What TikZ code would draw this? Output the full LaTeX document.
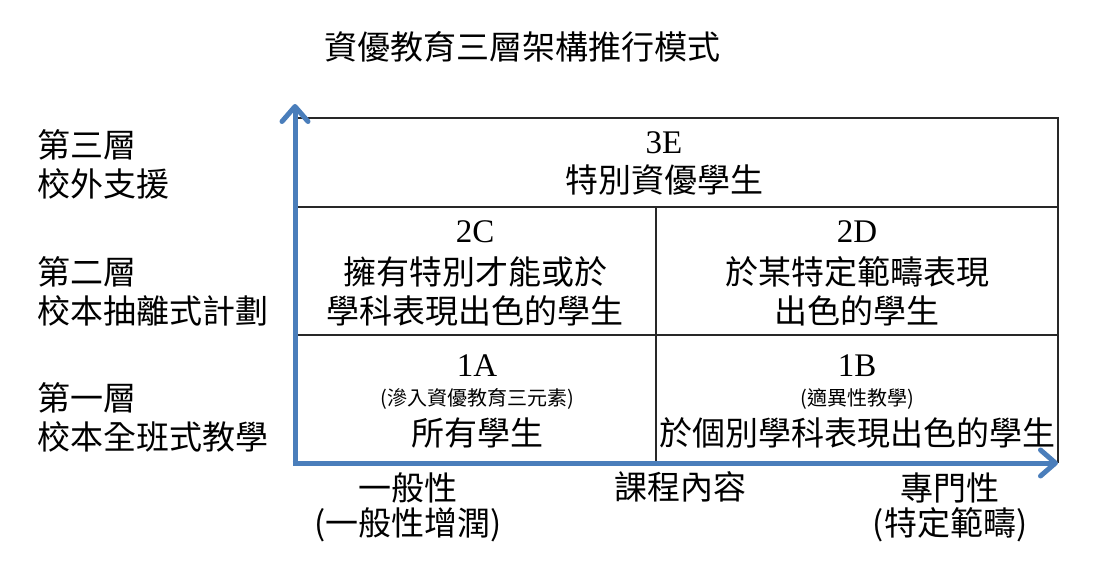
\documentclass[tikz,border=0pt]{standalone}
\usepackage{fontspec}
\setmainfont{Liberation Serif}
\newfontfamily\cjk{Noto Sans CJK TC}
\usetikzlibrary{arrows.meta}
\definecolor{axisblue}{RGB}{74,126,187}
\definecolor{gridline}{RGB}{40,40,40}
\tikzset{
  big/.style={font=\cjk\fontsize{33}{36}\selectfont, inner sep=0pt},
  lat/.style={font=\fontsize{33}{36}\selectfont, inner sep=0pt},
  sml/.style={font=\cjk\fontsize{20}{22}\selectfont, inner sep=0pt},
  side/.style={big, anchor=west},
  axisline/.style={draw=axisblue, line width=5pt, -{Straight Barb[length=15pt,width=26pt,round]}},
  gridl/.style={draw=gridline, line width=1.3pt},
}
\begin{document}
\begin{tikzpicture}[x=1pt,y=-1pt]
\useasboundingbox (0,0) rectangle (1095,562);
% grid
\coordinate (tl) at (295,118);
\coordinate (tr) at (1058,118);
\coordinate (br) at (1058,463);
\coordinate (ml) at (295,207);
\coordinate (mr) at (1058,207);
\coordinate (ll) at (295,335);
\coordinate (lr) at (1058,335);
\coordinate (vt) at (656,207);
\coordinate (vb) at (656,463);
\draw[gridl] (tl) -- (tr) -- (br);
\draw[gridl] (ml) -- (mr);
\draw[gridl] (ll) -- (lr);
\draw[gridl] (vt) -- (vb);
% axes
\coordinate (origin) at (295,463);
\coordinate (corner) at (292.5,463);
\coordinate (ytip) at (295,104);
\coordinate (xtip) at (1058,463);
\draw[axisline] (corner) -- (xtip);
\draw[axisline] (origin) -- (ytip);
% title
\node[big] (title) at (522,47) {資優教育三層架構推行模式};
% side labels
\node[side] (l3a) at (37,145) {第三層};
\node[side] (l3b) at (37,184) {校外支援};
\node[side] (l2a) at (37,272) {第二層};
\node[side] (l2b) at (37,311) {校本抽離式計劃};
\node[side] (l1a) at (37,398) {第一層};
\node[side] (l1b) at (37,437) {校本全班式教學};
% cell 3E
\node[lat] (e3) at (664,143) {3E};
\node[big] (e3t) at (664,180) {特別資優學生};
% cell 2C
\node[lat] (c2) at (475,232) {2C};
\node[big] (c2a) at (475,272) {擁有特別才能或於};
\node[big] (c2b) at (475,311) {學科表現出色的學生};
% cell 2D
\node[lat] (d2) at (857,232) {2D};
\node[big] (d2a) at (857,272) {於某特定範疇表現};
\node[big] (d2b) at (857,311) {出色的學生};
% cell 1A
\node[lat] (a1) at (477,366) {1A};
\node[sml] (a1s) at (477,399) {(滲入資優教育三元素)};
\node[big] (a1t) at (477,433) {所有學生};
% cell 1B
\node[lat] (b1) at (857,366) {1B};
\node[sml] (b1s) at (857,399) {(適異性教學)};
\node[big] (b1t) at (857,433) {於個別學科表現出色的學生};
% x axis labels
\node[big] (gen) at (408,488) {一般性};
\node[big] (gen2) at (408,525) {(一般性增潤)};
\node[big] (cur) at (680,487) {課程內容};
\node[big] (spe) at (950,488) {專門性};
\node[big] (spe2) at (950,525) {(特定範疇)};
\end{tikzpicture}
\end{document}
